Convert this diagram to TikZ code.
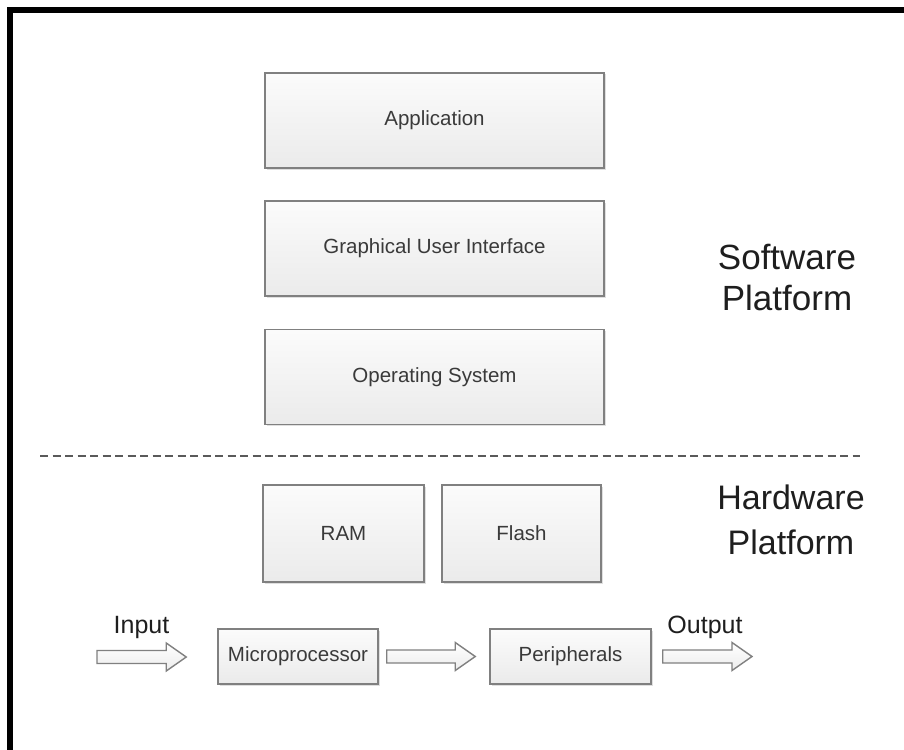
\documentclass[tikz,border=0pt]{standalone}
\usepackage{fontspec}
\setmainfont{Liberation Sans}
\usetikzlibrary{calc,shadows}
\definecolor{boxline}{HTML}{808080}
\definecolor{boxtext}{HTML}{3A3A3A}
\definecolor{bigtext}{HTML}{1E1E1E}
\definecolor{dashcol}{HTML}{5A5A5A}
\tikzset{
  layerbox/.style={draw=boxline, line width=1.5pt, top color=gray!3, bottom color=gray!16,
    text=boxtext, font=\fontsize{20.5}{24}\selectfont, inner sep=0pt,
    drop shadow={shadow xshift=1.5pt, shadow yshift=-1.5pt, opacity=0.25, fill=gray}},
  barrow/.style={draw=boxline, line width=1.4pt, top color=white, bottom color=gray!15, line join=miter},
  biglabel/.style={text=bigtext, align=center},
  iolabel/.style={text=bigtext, font=\fontsize{25}{28}\selectfont},
}
\newcommand\blockarrow[2]{%
  \draw[barrow] let \p1=(#1), \p2=(#2) in
    (\x1,\y1+6.5pt) -- (\x2-20pt,\y1+6.5pt) -- (\x2-20pt,\y1+14pt) -- (\x2,\y1)
    -- (\x2-20pt,\y1-14pt) -- (\x2-20pt,\y1-6.5pt) -- (\x1,\y1-6.5pt) -- cycle;}
\begin{document}
\begin{tikzpicture}[x=1pt,y=-1pt]
\useasboundingbox[fill=white] (0,0) rectangle (904,749);
% frame (left and top edges only)
\draw[line width=6pt, black, line join=miter] (10,760) -- (10,10) -- (915,10);
% software layers
\node[layerbox, minimum width=339pt, minimum height=95pt] (app) at (434.5,120.5) {Application};
\node[layerbox, minimum width=339pt, minimum height=95pt] (gui) at (434.5,248.5) {Graphical User Interface};
\node[layerbox, minimum width=339pt, minimum height=95pt] (os) at (434.5,377) {Operating System};
% separator
\coordinate (sepL) at (40,456);
\coordinate (sepR) at (860,456);
\draw[dashcol, line width=1.4pt, dash pattern=on 8pt off 4.5pt] (sepL) -- (sepR);
% hardware
\node[layerbox, minimum width=161pt, minimum height=97pt] (ram) at (343.5,533.5) {RAM};
\node[layerbox, minimum width=159pt, minimum height=97pt] (flash) at (521.5,533.5) {Flash};
\node[layerbox, minimum width=160pt, minimum height=55pt] (micro) at (298,656.5) {Microprocessor};
\node[layerbox, minimum width=161pt, minimum height=55pt] (periph) at (570.5,656.5) {Peripherals};
% flow arrows
\coordinate (inS) at (97,657);
\coordinate (inE) at ($(micro.west)+(-31,0)$);
\coordinate (midS) at ($(micro.east)+(8,0)$);
\coordinate (midE) at ($(periph.west)+(-14,0)$);
\coordinate (outS) at ($(periph.east)+(11,0)$);
\coordinate (outE) at (752,657);
\blockarrow{inS}{inE}
\blockarrow{midS}{midE}
\blockarrow{outS}{outE}
\node[iolabel] (inlbl) at (141.5,627) {Input};
\node[iolabel] (outlbl) at (705,627) {Output};
% platform labels
\node[biglabel, font=\fontsize{35}{41}\selectfont] (sw) at (787,278) {Software\\Platform};
\node[biglabel, font=\fontsize{34}{45}\selectfont] (hw) at (791,520) {Hardware\\Platform};
\end{tikzpicture}
\end{document}
